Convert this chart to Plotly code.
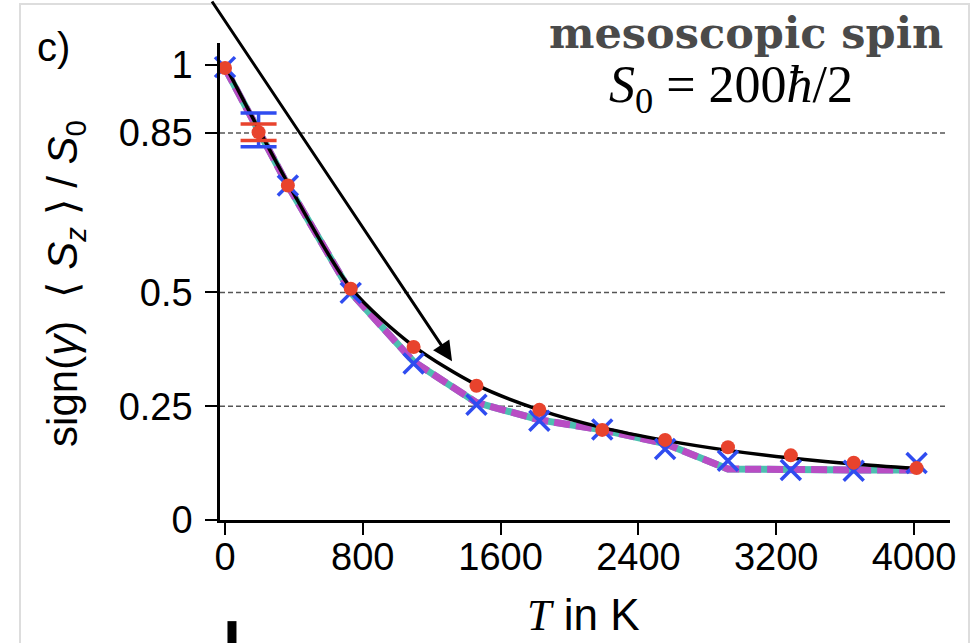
import plotly.graph_objects as go

# ---- data ----
T = [0, 365, 730, 1095, 1460, 1825, 2190, 2555, 2920, 3285, 3650, 4015]
red_vals = [0.993, 0.735, 0.508, 0.380, 0.295, 0.242, 0.198, 0.176, 0.160, 0.142, 0.126, 0.114]
blue_vals = [0.995, 0.735, 0.499, 0.344, 0.253, 0.218, 0.199, 0.156, 0.130, 0.110, 0.108, 0.125]
band_vals = [0.993, 0.735, 0.500, 0.348, 0.258, 0.220, 0.198, 0.168, 0.112, 0.110, 0.110, 0.110]
theory_vals = [1.0, 0.740, 0.510, 0.382, 0.297, 0.242, 0.203, 0.175, 0.153, 0.136, 0.123, 0.113]

T_err = [195]
red_err_val = [0.852]
red_err = [0.018]
blue_err_val = [0.857]
blue_err = [0.037]

x_ticks = [0, 800, 1600, 2400, 3200, 4000]
y_ticks = [0, 0.25, 0.5, 0.85, 1]
y_ticklabels = ["0", "0.25", "0.5", "0.85", "1"]
ref_lines = [0.25, 0.5, 0.85]

RED = "#e8432d"
BLUE = "#2f4cf0"
MAG = "#b84dc4"
TEAL = "#4dbfb0"

fig = go.Figure()

# teal under, magenta dashed on top
fig.add_trace(go.Scatter(x=T, y=band_vals, mode="lines",
                         line=dict(color=TEAL, width=7), cliponaxis=False, showlegend=False))
fig.add_trace(go.Scatter(x=T, y=band_vals, mode="lines",
                         line=dict(color=MAG, width=7, dash="16px,6px"), cliponaxis=False, showlegend=False))
fig.add_trace(go.Scatter(x=T, y=theory_vals, mode="lines",
                         line=dict(color="black", width=3.5, shape="spline", smoothing=0.8),
                         cliponaxis=False, showlegend=False))
fig.add_trace(go.Scatter(x=T, y=blue_vals, mode="markers",
                         marker=dict(symbol="x-thin", size=20, line=dict(color=BLUE, width=3.5)),
                         cliponaxis=False, showlegend=False))
fig.add_trace(go.Scatter(x=T_err, y=blue_err_val, mode="markers",
                         marker=dict(size=1, color="rgba(0,0,0,0)"),
                         error_y=dict(type="data", array=blue_err, color=BLUE, thickness=3.5, width=18),
                         cliponaxis=False, showlegend=False))
fig.add_trace(go.Scatter(x=T_err, y=red_err_val, mode="markers",
                         marker=dict(size=14, color=RED),
                         error_y=dict(type="data", array=red_err, color=RED, thickness=3.5, width=18),
                         cliponaxis=False, showlegend=False))
fig.add_trace(go.Scatter(x=T, y=red_vals, mode="markers",
                         marker=dict(size=14, color=RED),
                         cliponaxis=False, showlegend=False))

shapes = []
for v in ref_lines:
    shapes.append(dict(type="line", xref="paper", x0=0, x1=0.997, yref="y", y0=v, y1=v,
                       line=dict(color="#555555", width=1.5, dash="5px,3px"), layer="below"))
# panel border
shapes.append(dict(type="rect", xref="paper", yref="paper", x0=-0.274, x1=1.026, y0=-0.30, y1=1.0818,
                   line=dict(color="#dddddd", width=2), layer="below"))
# piece of next panel at bottom
shapes.append(dict(type="line", xref="paper", yref="paper", x0=0.0164, x1=0.0164, y0=-0.212, y1=-0.28,
                   line=dict(color="black", width=9)))

tickfont = dict(family="Liberation Sans", size=38, color="black")

annotations = [
    dict(text="c)", xref="paper", yref="paper", x=-0.2534, y=0.9916, xanchor="left", yanchor="middle",
         showarrow=False, font=dict(family="Liberation Sans", size=40, color="black")),
    dict(text="<b>mesoscopic spin</b>", xref="paper", yref="paper", x=0.9932, y=1.021,
         xanchor="right", yanchor="middle", showarrow=False,
         font=dict(family="DejaVu Serif", size=43, color="#4a4a4a")),
    dict(text="<i>S</i><sub>0</sub> = 200<i>ħ</i>/2", xref="paper", yref="paper", x=0.700, y=0.9036,
         xanchor="center", yanchor="middle", showarrow=False,
         font=dict(family="Liberation Serif", size=52, color="black")),
    dict(text="sign(<i>γ</i>)  ⟨ <i>S</i><sub><i>z</i></sub> ⟩ / <i>S</i><sub>0</sub>", xref="paper", yref="paper",
         x=-0.2110, y=0.497, xanchor="center", yanchor="middle", textangle=-90, showarrow=False,
         font=dict(family="Liberation Sans", size=42, color="black")),
    dict(text="<span style='font-family:Liberation Serif'><i>T</i></span> in K", xref="paper", yref="paper",
         x=0.4986, y=-0.199, xanchor="center", yanchor="middle", showarrow=False,
         font=dict(family="Liberation Sans", size=44, color="black")),
    dict(text="", x=1318, y=0.349, xref="x", yref="y", ax=-241, ay=-370, axref="pixel", ayref="pixel",
         showarrow=True, arrowhead=2, arrowsize=1.3, arrowwidth=3, arrowcolor="black"),
]

fig.update_layout(
    width=974, height=643,
    margin=dict(l=220, r=24, t=43, b=123, pad=0),
    paper_bgcolor="white", plot_bgcolor="white",
    showlegend=False,
    shapes=shapes,
    annotations=annotations,
    xaxis=dict(range=[-29, 4209], tickvals=x_ticks, ticks="outside", ticklen=12, tickwidth=2,
               tickcolor="black", showline=True, linecolor="black", linewidth=2.5,
               showgrid=False, zeroline=False, tickfont=tickfont, ticklabelstandoff=-10),
    yaxis=dict(range=[0, 1.048], tickvals=y_ticks, ticktext=y_ticklabels, ticks="outside", ticklen=12,
               tickwidth=2, tickcolor="black", showline=True, linecolor="black", linewidth=2.5,
               showgrid=False, zeroline=False, tickfont=tickfont, ticklabelstandoff=5),
)

fig.write_html("out.html")
